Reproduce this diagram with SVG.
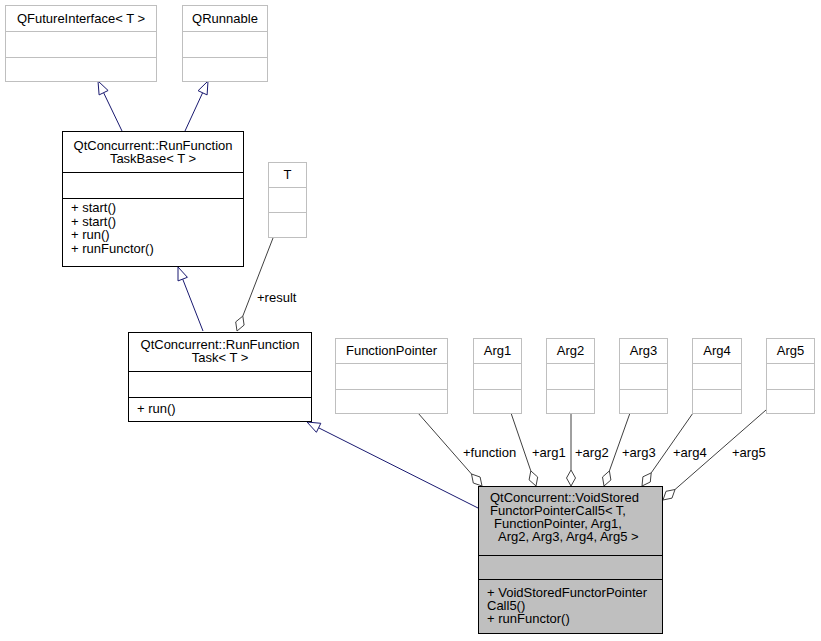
<svg xmlns="http://www.w3.org/2000/svg" width="821" height="641" viewBox="0 0 821 641">
<style>
text{font-family:"Liberation Sans",Arial,sans-serif;font-size:13px;fill:#000}
.c{text-anchor:middle}
.g{fill:#fff;stroke:#bfbfbf;stroke-width:1}
.k{fill:#fff;stroke:#000;stroke-width:1}
.m{fill:#bfbfbf;stroke:#000;stroke-width:1}
.gl{stroke:#bfbfbf;stroke-width:1}
.kl{stroke:#000;stroke-width:1}
.inh{stroke:#191970;stroke-width:1;fill:none}
.inhh{fill:#fff;stroke:#191970;stroke-width:1}
.agg{stroke:#404040;stroke-width:1;fill:none}
.aggh{fill:#fff;stroke:#404040;stroke-width:1}
</style>
<rect width="821" height="641" fill="#fff"/>
<g id="connectors">
<line class="inh" x1="122" y1="131" x2="103.6" y2="92.7"/>
<polygon class="inhh" points="98,81 99.1,94.9 108.1,90.5"/>
<line class="inh" x1="185" y1="131" x2="202.6" y2="92.8"/>
<polygon class="inhh" points="208,81 198.1,90.7 207.1,94.9"/>
<line class="inh" x1="203" y1="331" x2="182.7" y2="279.1"/>
<polygon class="inhh" points="178,267 178,280.9 187.4,277.3"/>
<line class="inh" x1="478" y1="508" x2="318.6" y2="427.8"/>
<polygon class="inhh" points="307,422 316.4,432.3 320.8,423.3"/>
<line class="agg" x1="273" y1="238" x2="242.8" y2="316.1"/>
<polygon class="aggh" points="237,331 244.1,325.1 242.8,316.1 235.7,321.9"/>
<text x="257" y="302">+result</text>
<line class="agg" x1="418" y1="413" x2="471.5" y2="474"/>
<polygon class="aggh" points="482,486 480.1,477 471.5,474 473.3,483"/>
<text x="463" y="457">+function</text>
<line class="agg" x1="511" y1="413" x2="530.8" y2="470.9"/>
<polygon class="aggh" points="536,486 537.7,477 530.8,470.9 529.1,479.9"/>
<text x="532" y="457">+arg1</text>
<line class="agg" x1="571" y1="413" x2="571" y2="470"/>
<polygon class="aggh" points="571,486 575.5,478 571,470 566.5,478"/>
<text x="575" y="457">+arg2</text>
<line class="agg" x1="630" y1="413" x2="609.4" y2="470.9"/>
<polygon class="aggh" points="604,486 610.9,480 609.4,470.9 602.5,477"/>
<text x="622" y="457">+arg3</text>
<line class="agg" x1="693" y1="413" x2="651.2" y2="472.9"/>
<polygon class="aggh" points="642,486 650.3,482 651.2,472.9 642.9,476.8"/>
<text x="673" y="457">+arg4</text>
<line class="agg" x1="766" y1="410" x2="675" y2="489.5"/>
<polygon class="aggh" points="663,500 672,498.1 675,489.5 666,491.3"/>
<text x="732" y="457">+arg5</text>
</g>
<g id="QFutureInterface">
<rect class="g" x="5.5" y="5.5" width="151" height="76"/>
<line class="gl" x1="5.5" y1="31.5" x2="156.5" y2="31.5"/>
<line class="gl" x1="5.5" y1="57.5" x2="156.5" y2="57.5"/>
<text class="c" x="81" y="22.5">QFutureInterface&lt; T &gt;</text>
</g>
<g id="QRunnable">
<rect class="g" x="182.5" y="5.5" width="85" height="76"/>
<line class="gl" x1="182.5" y1="31.5" x2="267.5" y2="31.5"/>
<line class="gl" x1="182.5" y1="57.5" x2="267.5" y2="57.5"/>
<text class="c" x="225" y="22.5">QRunnable</text>
</g>
<g id="RunFunctionTaskBase">
<rect class="k" x="62.5" y="131.5" width="181" height="135"/>
<line class="kl" x1="62.5" y1="172.5" x2="243.5" y2="172.5"/>
<line class="kl" x1="62.5" y1="198.5" x2="243.5" y2="198.5"/>
<text class="c" x="153" y="150">QtConcurrent::RunFunction</text>
<text class="c" x="153" y="163">TaskBase&lt; T &gt;</text>
<text x="71" y="212">+ start()</text>
<text x="71" y="225.5">+ start()</text>
<text x="71" y="239">+ run()</text>
<text x="71" y="252.5">+ runFunctor()</text>
</g>
<g id="T">
<rect class="g" x="268.5" y="162.5" width="38" height="75"/>
<line class="gl" x1="268.5" y1="187.5" x2="306.5" y2="187.5"/>
<line class="gl" x1="268.5" y1="212.5" x2="306.5" y2="212.5"/>
<text class="c" x="287.5" y="179">T</text>
</g>
<g id="RunFunctionTask">
<rect class="k" x="128.5" y="332.5" width="183" height="89"/>
<line class="kl" x1="128.5" y1="371.5" x2="311.5" y2="371.5"/>
<line class="kl" x1="128.5" y1="397.5" x2="311.5" y2="397.5"/>
<text class="c" x="220" y="349">QtConcurrent::RunFunction</text>
<text class="c" x="220" y="362">Task&lt; T &gt;</text>
<text x="137" y="413">+ run()</text>
</g>
<g id="FunctionPointer">
<rect class="g" x="335.5" y="338.5" width="112" height="75"/>
<line class="gl" x1="335.5" y1="363.5" x2="447.5" y2="363.5"/>
<line class="gl" x1="335.5" y1="389.5" x2="447.5" y2="389.5"/>
<text class="c" x="391.5" y="355">FunctionPointer</text>
</g>
<g id="Arg1">
<rect class="g" x="473.5" y="338.5" width="48" height="75"/>
<line class="gl" x1="473.5" y1="363.5" x2="521.5" y2="363.5"/>
<line class="gl" x1="473.5" y1="389.5" x2="521.5" y2="389.5"/>
<text class="c" x="497.5" y="355">Arg1</text>
</g>
<g id="Arg2">
<rect class="g" x="546.5" y="338.5" width="48" height="75"/>
<line class="gl" x1="546.5" y1="363.5" x2="594.5" y2="363.5"/>
<line class="gl" x1="546.5" y1="389.5" x2="594.5" y2="389.5"/>
<text class="c" x="570.5" y="355">Arg2</text>
</g>
<g id="Arg3">
<rect class="g" x="619.5" y="338.5" width="48" height="75"/>
<line class="gl" x1="619.5" y1="363.5" x2="667.5" y2="363.5"/>
<line class="gl" x1="619.5" y1="389.5" x2="667.5" y2="389.5"/>
<text class="c" x="643.5" y="355">Arg3</text>
</g>
<g id="Arg4">
<rect class="g" x="692.5" y="338.5" width="49" height="75"/>
<line class="gl" x1="692.5" y1="363.5" x2="741.5" y2="363.5"/>
<line class="gl" x1="692.5" y1="389.5" x2="741.5" y2="389.5"/>
<text class="c" x="717" y="355">Arg4</text>
</g>
<g id="Arg5">
<rect class="g" x="766.5" y="338.5" width="48" height="75"/>
<line class="gl" x1="766.5" y1="363.5" x2="814.5" y2="363.5"/>
<line class="gl" x1="766.5" y1="389.5" x2="814.5" y2="389.5"/>
<text class="c" x="790.5" y="355">Arg5</text>
</g>
<g id="VoidStoredFunctorPointerCall5">
<rect class="m" x="478.5" y="486.5" width="184" height="147"/>
<line class="kl" x1="478.5" y1="555.5" x2="662.5" y2="555.5"/>
<line class="kl" x1="478.5" y1="579.5" x2="662.5" y2="579.5"/>
<text x="490" y="502">QtConcurrent::VoidStored</text>
<text x="490" y="515">FunctorPointerCall5&lt; T,</text>
<text x="494" y="528">FunctionPointer, Arg1,</text>
<text x="498" y="541">Arg2, Arg3, Arg4, Arg5 &gt;</text>
<text x="487" y="597">+ VoidStoredFunctorPointer</text>
<text x="487" y="610">Call5()</text>
<text x="487" y="623">+ runFunctor()</text>
</g>
</svg>
